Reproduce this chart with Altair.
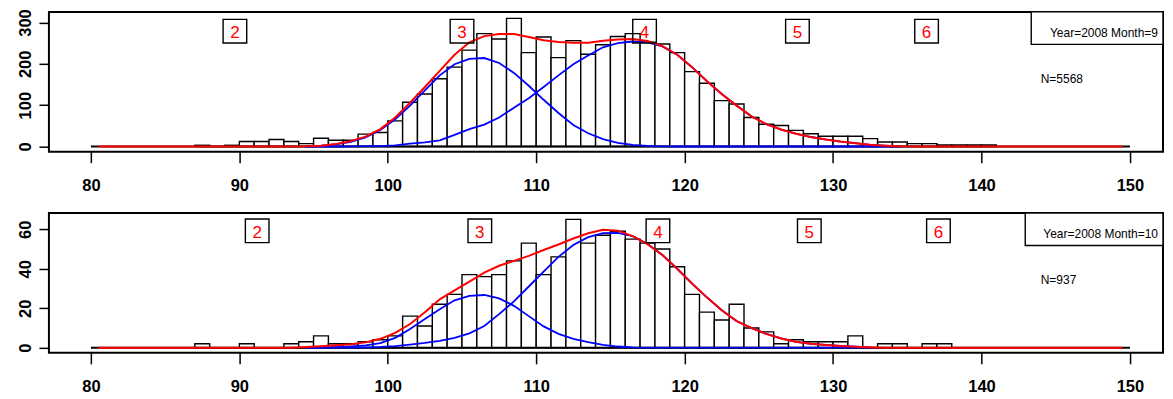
import altair as alt
import pandas as pd

# ---------------- data ----------------
# Panel 1 : Year=2008 Month=9
BIN_START_1 = list(range(87, 141))
COUNTS_1 = [3, 0, 3, 12, 12, 17, 12, 7, 20, 15, 15, 30, 34,
            62, 107, 127, 164, 192, 233, 273, 260, 310, 227,
            265, 215, 256, 223, 246, 266, 273, 252, 248, 227,
            181, 153, 111, 103, 70, 54, 51, 39, 31, 25, 25, 25,
            19, 11, 11, 7, 7, 4, 4, 4, 4]

# Panel 2 : Year=2008 Month=10
BIN_START_2 = list(range(87, 138))
COUNTS_2 = [2, 0, 0, 2, 0, 0, 2, 3, 6, 2, 2, 3, 4,
            6, 16, 11, 22, 27, 37, 36, 37, 44, 53,
            37, 46, 65, 53, 57, 59, 55, 53, 50, 41,
            27, 18, 14, 22, 10, 8, 2, 4, 3, 3, 3, 6,
            0, 2, 2, 0, 2, 2]

# fitted curves, evaluated at bin mid points 80.5 ... 149.5 (zero elsewhere)
CURVE_X = [80.5 + i for i in range(70)]

RED_1_FROM, RED_1 = 94.5, [0.5, 2, 6, 13, 24, 42, 70, 106, 144, 183,
                           222, 252, 267, 272, 272, 265, 257, 253, 251, 251,
                           256, 259, 260, 255, 243, 222, 192, 158, 127, 99,
                           73, 54, 41, 31, 23, 17, 12, 8, 4, 2, 0.5]
BLUE_A_1_FROM, BLUE_A_1 = 94.5, [0.5, 2, 5, 11, 22, 40, 66, 99, 136, 172,
                                 199, 212, 214, 202, 178, 147, 113, 81, 52, 32,
                                 18, 9, 4, 1.5, 0.5]
BLUE_B_1_FROM, BLUE_B_1 = 97.5, [0.5, 1, 1, 3, 7, 10, 15, 28, 42, 53,
                                 70, 94, 117, 144, 172, 199, 220, 240, 250, 254,
                                 252, 242, 222, 192, 158, 127, 99, 73, 54, 41,
                                 31, 23, 17, 12, 8, 4, 2, 0.5]

RED_2_FROM, RED_2 = 94.5, [0.3, 0.7, 1.2, 1.7, 2.7, 4.5, 7.5, 12, 18, 24.5,
                           29, 33.5, 38, 41.5, 44, 46.5, 49.5, 52.3, 55.3, 58,
                           59.8, 59.3, 56.5, 52.5, 47, 40, 32.5, 25.5, 19, 13.5,
                           10, 7, 4.7, 3, 2, 1.4, 0.9, 0.5, 0.2]
BLUE_A_2_FROM, BLUE_A_2 = 96.5, [0.3, 0.7, 1.2, 2.3, 5, 9.5, 14.5, 19.5, 24, 26.3,
                                 26.7, 25, 21.2, 16, 10.8, 7, 4.5, 2.8, 1.4, 0.6, 0.2]
BLUE_B_2_FROM, BLUE_B_2 = 98.5, [0.2, 0.4, 0.8, 1.6, 2.4, 3.5, 5, 7.3, 11, 17,
                                 23.5, 31, 38.5, 46, 52, 56, 58, 58.2, 56.5, 52.5,
                                 47, 40, 32.5, 25.5, 19, 13.5, 10, 7, 4.7, 3,
                                 2, 1.4, 0.9, 0.5, 0.2]

# boxed age-group labels
AGE_LABELS = ["2", "3", "4", "5", "6"]
AGE_X_1 = [89.7, 105.0, 117.3, 127.6, 136.3]
AGE_Y_1 = 279
AGE_X_2 = [91.2, 106.2, 118.2, 128.4, 137.1]
AGE_Y_2 = 59.2

TITLE_1, N_1 = "Year=2008 Month=9", "N=5568"
TITLE_2, N_2 = "Year=2008 Month=10", "N=937"

FONT = "Liberation Sans"
W, H = 1116, 140
X_DOMAIN = [77.17, 152.23]


def full_curve(start, vals):
    i0 = int(round(start - CURVE_X[0]))
    return [0.0] * i0 + list(vals) + [0.0] * (len(CURVE_X) - i0 - len(vals))


def panel(bins, counts, red, blue_a, blue_b, ydom, ystep, ylabstep,
          age_x, age_y, title, ntext, leg_left):
    xs = alt.Scale(domain=X_DOMAIN, nice=False, zero=False)
    ys = alt.Scale(domain=ydom, nice=False, zero=False)
    xaxis = alt.Axis(values=list(range(80, 151, 10)), title=None, grid=False,
                     domain=False, tickSize=11, tickWidth=1.5, tickColor="black",
                     labelFont=FONT, labelFontSize=16.5, labelFontWeight="bold",
                     labelColor="black", labelPadding=15, labelFlush=False,
                     labelOverlap=False)
    yvals = list(range(0, int(ydom[1]), ystep))
    yaxis = alt.Axis(values=yvals, title=None, grid=False, domain=False,
                     tickSize=10, tickWidth=1.5, tickColor="black",
                     labelFont=FONT, labelFontSize=16.5, labelFontWeight="bold",
                     labelColor="black", labelPadding=5, labelAngle=270,
                     labelAlign="center", labelBaseline="bottom",
                     labelFlush=False, labelOverlap=False,
                     labelExpr=f"datum.value % {ylabstep} == 0 ? datum.label : ''")

    hist = pd.DataFrame({"x": bins, "x2": [b + 1 for b in bins],
                         "y0": [0] * len(bins), "count": counts})
    bars = alt.Chart(hist).mark_rect(fill="white", stroke="black",
                                     strokeWidth=1.4).encode(
        x=alt.X("x:Q", scale=xs, axis=xaxis),
        x2="x2:Q",
        y=alt.Y("y0:Q", scale=ys, axis=yaxis),
        y2="count:Q",
    )

    base_df = pd.DataFrame({"x": [80, 150], "y": [0, 0]})
    baseline = alt.Chart(base_df).mark_line(color="black", strokeWidth=2).encode(
        x="x:Q", y="y:Q")

    # the component curves; where the total (red) is zero they lie under it
    blue_df = pd.DataFrame({
        "x": CURVE_X * 2,
        "y": blue_a + blue_b,
        "tot": red + red,
        "comp": ["a"] * len(CURVE_X) + ["b"] * len(CURVE_X),
    })
    blue_df = blue_df[blue_df["tot"] > 0]
    blue = alt.Chart(blue_df).mark_line(color="#0000FF", strokeWidth=1.8).encode(
        x="x:Q", y="y:Q", detail="comp:N")

    red_df = pd.DataFrame({"x": CURVE_X, "y": red})
    redl = alt.Chart(red_df).mark_line(color="#FF0000", strokeWidth=2).encode(
        x="x:Q", y="y:Q")

    lab_df = pd.DataFrame({"x": age_x, "y": [age_y] * len(age_x), "lab": AGE_LABELS})
    boxes = alt.Chart(lab_df).mark_point(shape="square", size=560, filled=False,
                                         color="black", strokeWidth=1.4,
                                         opacity=1).encode(x="x:Q", y="y:Q")
    labs = alt.Chart(lab_df).mark_text(color="#FF0000", font=FONT, fontSize=17,
                                       align="center", baseline="middle",
                                       dy=2).encode(x="x:Q", y="y:Q", text="lab:N")

    leg_box = alt.Chart(pd.DataFrame({"t": [title]})).mark_rect(
        fill="white", stroke="black", strokeWidth=1.4).encode(
        x=alt.value(leg_left), x2=alt.value(W), y=alt.value(0), y2=alt.value(32.5))
    leg_txt = alt.Chart(pd.DataFrame({"t": [title]})).mark_text(
        font=FONT, fontSize=12, color="black", align="right",
        baseline="alphabetic").encode(x=alt.value(W - 5), y=alt.value(25), text="t:N")
    n_txt = alt.Chart(pd.DataFrame({"t": [ntext]})).mark_text(
        font=FONT, fontSize=12, color="black", align="left",
        baseline="alphabetic").encode(x=alt.value(993.5), y=alt.value(71), text="t:N")

    return alt.layer(bars, baseline, blue, redl, boxes, labs, leg_box, leg_txt,
                     n_txt).properties(width=W, height=H)


p1 = panel(BIN_START_1, COUNTS_1,
           full_curve(RED_1_FROM, RED_1),
           full_curve(BLUE_A_1_FROM, BLUE_A_1),
           full_curve(BLUE_B_1_FROM, BLUE_B_1),
           [-12.5, 325.5], 50, 100, AGE_X_1, AGE_Y_1, TITLE_1, N_1, 984)
p2 = panel(BIN_START_2, COUNTS_2,
           full_curve(RED_2_FROM, RED_2),
           full_curve(BLUE_A_2_FROM, BLUE_A_2),
           full_curve(BLUE_B_2_FROM, BLUE_B_2),
           [-2.6, 68.2], 10, 20, AGE_X_2, AGE_Y_2, TITLE_2, N_2, 978)

chart = alt.vconcat(p1, p2, spacing=61.5, bounds="flush").properties(
    padding={"left": 8, "top": -1.4, "right": 0, "bottom": 0},
    background="white",
).configure_view(stroke="black", strokeWidth=2)

chart.save("out.html", embed_options={"renderer": "svg", "actions": False})
